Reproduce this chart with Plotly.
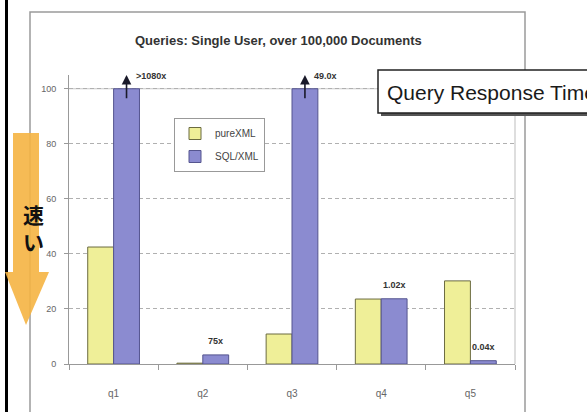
import plotly.graph_objects as go

# ---- data ----
categories = ["q1", "q2", "q3", "q4", "q5"]
purexml = [42.5, 0.3, 10.9, 23.6, 30.2]
sqlxml = [100, 3.3, 100, 23.7, 1.2]
ratio_labels = [">1080x", "75x", "49.0x", "1.02x", "0.04x"]
overflow = [True, False, True, False, False]
y_ticks = [0, 20, 40, 60, 80, 100]

W, H = 587, 412
ML, MR, MT, MB = 69, 72, 75, 48
YMAX = 105
PW = W - ML - MR
PH = H - MT - MB

def px(x):
    return (x - ML) / PW

def py(y):
    return (H - MB - y) / PH

BARGAP = 0.42
half = (1 - BARGAP) / 4  # center offset of each bar in a pair
LABEL_FONT = dict(size=9, color="#333", family="Liberation Sans")

fig = go.Figure()
fig.add_trace(go.Bar(name="pureXML", x=categories, y=purexml,
                     marker=dict(color="#efef98", line=dict(color="#6b6b40", width=1)),
                     legendgroup="a"))
fig.add_trace(go.Bar(name="SQL/XML", x=categories, y=sqlxml,
                     marker=dict(color="#8b8bd0", line=dict(color="#55558f", width=1)),
                     legendgroup="b"))

annotations = []
for i, (v, lab, ov) in enumerate(zip(sqlxml, ratio_labels, overflow)):
    xc = i + half
    if ov:
        annotations.append(dict(x=xc, y=YMAX, ax=xc, ay=v - 4, xref="x", yref="y",
                                axref="x", ayref="y", text="", showarrow=True,
                                arrowhead=2, arrowsize=1.2, arrowwidth=1.6,
                                arrowcolor="#1a1a2a"))
        annotations.append(dict(x=xc, y=v + 4.5, xref="x", yref="y",
                                text="<b>" + lab + "</b>", showarrow=False,
                                xanchor="left", xshift=7, font=LABEL_FONT))
    else:
        annotations.append(dict(x=xc, y=v, xref="x", yref="y", text="<b>" + lab + "</b>",
                                showarrow=False, yanchor="bottom", yshift=7,
                                font=LABEL_FONT))

# title
annotations.append(dict(x=px(278), y=py(41), xref="paper", yref="paper",
                        text="<b>Queries: Single User, over 100,000 Documents</b>",
                        showarrow=False, xanchor="center", yanchor="middle",
                        font=dict(size=13, color="#333", family="Liberation Sans")))
# callout box text
annotations.append(dict(x=px(385), y=py(93), xref="paper", yref="paper",
                        text="Query Response Time", showarrow=False,
                        xanchor="left", yanchor="middle",
                        font=dict(size=21, color="#1a1a1a",
                                  family="Liberation Sans Narrow, Arial Narrow, Liberation Sans")))
# Japanese vertical text
annotations.append(dict(x=px(22), y=py(227), xref="paper", yref="paper",
                        text="<b>速<br>い</b>", showarrow=False, borderpad=0,
                        font=dict(size=21, color="#111", family="Noto Sans CJK JP")))

shapes = []
# chart outer frame
shapes.append(dict(type="rect", xref="paper", yref="paper",
                   x0=px(30), x1=px(525), y0=py(430), y1=py(12),
                   line=dict(color="#9a9a9a", width=1.5), fillcolor="rgba(0,0,0,0)", layer="below"))
# plot area top/right light border
shapes.append(dict(type="line", xref="paper", yref="y", x0=0, x1=1, y0=100, y1=100,
                   line=dict(color="#c8c8c8", width=1.2), layer="below"))
shapes.append(dict(type="line", xref="paper", yref="y", x0=1, x1=1, y0=0, y1=100,
                   line=dict(color="#c8c8c8", width=1.2), layer="below"))
# left black border
shapes.append(dict(type="rect", xref="paper", yref="paper",
                   x0=px(5), x1=px(8), y0=py(H + 5), y1=py(-5),
                   line=dict(width=0), fillcolor="#000"))
# orange arrow
ax_l, ax_r, ax_t, hd_l, hd_r, hd_t, tip_x, tip_y = 13, 39, 133, 5, 49, 272, 26, 325
path = (f"M {px(ax_l)},{py(ax_t)} L {px(ax_r)},{py(ax_t)} L {px(ax_r)},{py(hd_t)} "
        f"L {px(hd_r)},{py(hd_t)} L {px(tip_x)},{py(tip_y)} L {px(hd_l)},{py(hd_t)} "
        f"L {px(ax_l)},{py(hd_t)} Z")
shapes.append(dict(type="path", xref="paper", yref="paper", path=path,
                   fillcolor="#f5b443", line=dict(width=0), opacity=0.9))
# callout shadow + box
shapes.append(dict(type="rect", xref="paper", yref="paper",
                   x0=px(381), x1=px(620), y0=py(116), y1=py(73),
                   fillcolor="#555", line=dict(width=0)))
shapes.append(dict(type="rect", xref="paper", yref="paper",
                   x0=px(378), x1=px(620), y0=py(113), y1=py(70),
                   fillcolor="#fff", line=dict(color="#222", width=1.5)))

fig.update_layout(
    width=W, height=H,
    margin=dict(l=ML, r=MR, t=MT, b=MB),
    paper_bgcolor="#fff", plot_bgcolor="#fff",
    barmode="group", bargap=BARGAP, bargroupgap=0,
    font=dict(family="Liberation Sans", color="#555"),
    showlegend=True,
    legend=dict(x=px(174), y=py(118), xanchor="left", yanchor="top",
                bgcolor="#fff", bordercolor="#999", borderwidth=1,
                font=dict(size=10, color="#444"), itemwidth=30,
                traceorder="grouped", tracegroupgap=4),
    annotations=annotations, shapes=shapes,
)
fig.update_xaxes(range=[-0.5, 4.5], showline=True, linecolor="#999", linewidth=1,
                 ticks="outside", tickson="boundaries", ticklen=5, tickcolor="#999",
                 tickfont=dict(size=10, color="#666"), ticklabelstandoff=20,
                 showgrid=False, fixedrange=True)
fig.update_yaxes(range=[0, YMAX], tickvals=y_ticks, showline=True, linecolor="#999",
                 linewidth=1, ticks="outside", ticklen=4, tickcolor="#999",
                 tickfont=dict(size=9, color="#666"), ticklabelstandoff=6,
                 showgrid=True, gridcolor="#b0b0b0", griddash="4px,3px", gridwidth=1,
                 zeroline=False, fixedrange=True)

fig.write_html("out.html")
